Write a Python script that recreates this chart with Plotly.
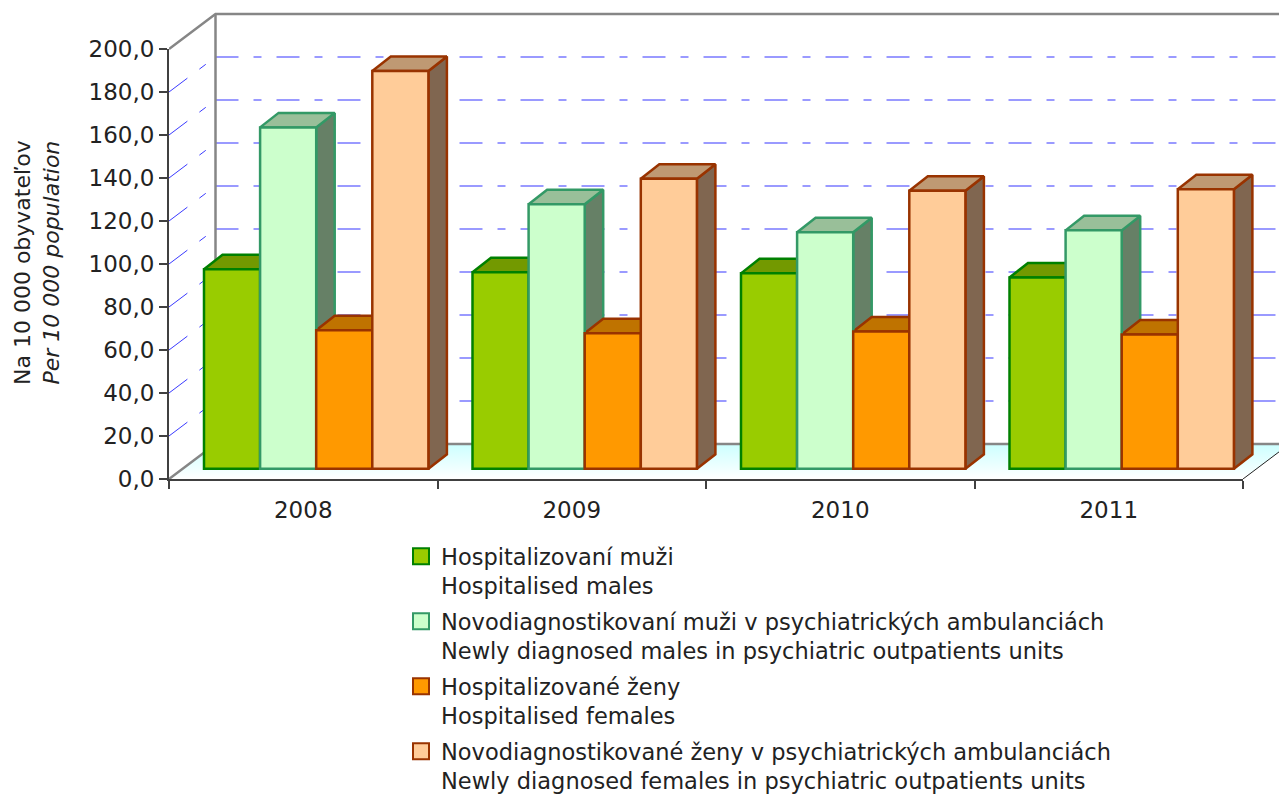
import plotly.graph_objects as go

years = ["2008", "2009", "2010", "2011"]
hosp_m = [92.8, 91.4, 90.9, 89.0]
diag_m = [158.8, 123.0, 110.0, 110.9]
hosp_f = [64.4, 63.0, 63.9, 62.5]
diag_f = [185.0, 134.9, 129.3, 130.0]
y_ticks = list(range(0, 201, 20))
y_labels = [f"{v},0" for v in y_ticks]
names = [
    "Hospitalizovaní muži<br>Hospitalised males",
    "Novodiagnostikovaní muži v psychiatrických ambulanciách<br>Newly diagnosed males in psychiatric outpatients units",
    "Hospitalizované ženy<br>Hospitalised females",
    "Novodiagnostikované ženy v psychiatrických ambulanciách<br>Newly diagnosed females in psychiatric outpatients units",
]
series = [hosp_m, diag_m, hosp_f, diag_f]
fills = ["#99CC00", "#CCFFCC", "#FF9900", "#FFCC99"]
tops = ["#739900", "#99BF99", "#BF7300", "#BF9973"]
sides = ["#4D6600", "#668066", "#804D00", "#806650"]
borders = ["#008000", "#339966", "#993300", "#993300"]

PX_X = 268.5
PX_Y = 2.15
W_FULL, H_FULL = 1110, 467               # whole drawing area in px
W_AX, H_AX = 1074, 430                   # area of the ticked front axes
WX, WY = 46.5 / PX_X, 35 / PX_Y          # wall depth
BX, BY = 18.5 / PX_X, 14.5 / PX_Y        # bar depth
BASE = 10.2 / PX_Y
BAR_W = 56.1 / PX_X
START = 35 / PX_X - 0.5
XR = -0.5 + W_FULL / PX_X
F = "DejaVu Sans"
GRID = "#7A7AFF"

fig = go.Figure()
nc = dict(hoverinfo="skip", showlegend=False)

# floor
fig.add_trace(go.Scatter(
    x=[-0.5, 3.5, XR, XR, -0.5 + WX, -0.5], y=[0, 0, 36 / 46.5 * WY, WY, WY, 0],
    mode="lines", line=dict(width=0), fill="toself",
    fillgradient=dict(type="vertical", colorscale=[[0, "#FFFFFF"], [1, "#CCFFFF"]]), **nc))

# back wall gridlines
bx, by = [], []
for v in y_ticks[1:-1]:
    bx += [-0.5 + WX, XR, None]
    by += [v + WY, v + WY, None]
fig.add_trace(go.Scatter(x=bx, y=by, mode="lines",
                         line=dict(color=GRID, width=1.5, dash="23px,15px,8px,15px"), **nc))
# side wall gridlines
sx, sy = [], []
for v in y_ticks[1:-1]:
    sx += [-0.5, -0.5 + WX, None]
    sy += [v, v + WY, None]
fig.add_trace(go.Scatter(x=sx, y=sy, mode="lines",
                         line=dict(color="#3A3AFF", width=1, dash="23px,15px,8px,15px"), **nc))
# walls
fig.add_trace(go.Scatter(
    x=[-0.5, -0.5 + WX, XR, None, -0.5 + WX, -0.5 + WX, None, -0.5, -0.5 + WX, XR],
    y=[200, 200 + WY, 200 + WY, None, 200 + WY, WY, None, 0, WY, WY],
    mode="lines", line=dict(color="#868686", width=2.5), **nc))
fig.add_trace(go.Scatter(x=[3.5, XR], y=[0, 36 / 46.5 * WY], mode="lines",
                         line=dict(color="#222222", width=1), **nc))

# 3D faces
for i, vals in enumerate(series):
    sx, sy, tx, ty = [], [], [], []
    for c, v in enumerate(vals):
        xl = c + START + i * BAR_W
        xr = xl + BAR_W
        yt = BASE + v
        sx += [xr, xr, xr + BX, xr + BX, xr, None]
        sy += [BASE, yt, yt + BY, BASE + BY, BASE, None]
        tx += [xl, xr, xr + BX, xl + BX, xl, None]
        ty += [yt, yt, yt + BY, yt + BY, yt, None]
    fig.add_trace(go.Scatter(x=sx, y=sy, mode="lines", fill="toself", fillcolor=sides[i],
                             line=dict(color=borders[i], width=2.5), **nc))
    fig.add_trace(go.Scatter(x=tx, y=ty, mode="lines", fill="toself", fillcolor=tops[i],
                             line=dict(color=borders[i], width=2.5), **nc))

# front faces on the ticked axes, drawn above the other faces
for i, vals in enumerate(series):
    fig.add_trace(go.Bar(
        x=list(range(len(years))), y=vals, base=BASE, width=BAR_W,
        offset=START + i * BAR_W, marker=dict(color=fills[i], line=dict(color=borders[i], width=2.5)),
        xaxis="x2", yaxis="y2", showlegend=False, name=names[i]))

# legend entries
for i, n in enumerate(names):
    fig.add_trace(go.Scatter(
        x=[None], y=[None], mode="markers", name=n, legendgroup=f"g{i}", xaxis="x2", yaxis="y2",
        marker=dict(symbol="square", size=16, color=fills[i], line=dict(color=borders[i], width=2))))

axis_font = dict(family=F, size=23, color="#222222")
fig.update_layout(
    width=1279, height=794, autosize=False, paper_bgcolor="white", plot_bgcolor="rgba(0,0,0,0)",
    margin=dict(l=169, r=0, t=12, b=315, autoexpand=False),
    xaxis=dict(domain=[0, 1], range=[-0.5, XR], visible=False, anchor="y"),
    yaxis=dict(domain=[0, 1], range=[0, H_FULL / PX_Y], visible=False, anchor="x"),
    xaxis2=dict(domain=[0, W_AX / W_FULL], anchor="y2", range=[-0.5, 3.5], tickmode="array",
                tickvals=list(range(len(years))), ticktext=years,
                ticks="", showgrid=False, zeroline=False, showline=True, linecolor="#404040", linewidth=2,
                tickfont=axis_font, ticklabelstandoff=9,
                minor=dict(tickmode="array", tickvals=[c - 0.5 for c in range(len(years) + 1)], ticks="outside",
                           ticklen=8, tickwidth=1.5, tickcolor="#404040", showgrid=False)),
    yaxis2=dict(domain=[0, H_AX / H_FULL], anchor="x2", range=[0, 200], tickmode="array", tickvals=y_ticks,
                ticktext=y_labels, ticks="outside",
                ticklen=8, tickwidth=1.5, tickcolor="#404040", showgrid=False, zeroline=False,
                showline=True, linecolor="#404040", linewidth=2, tickfont=axis_font),
    barmode="overlay",
    legend=dict(x=232 / W_FULL, y=-56 / H_FULL, xanchor="left", yanchor="top", bgcolor="rgba(0,0,0,0)",
                font=dict(family=F, size=22.5, color="#222222"), tracegroupgap=3.5, traceorder="grouped",
                valign="top", itemclick=False, itemdoubleclick=False),
    annotations=[dict(text="Na 10 000 obyvateľov<br><i>Per 10 000 population</i>", textangle=-90,
                      xref="paper", yref="paper", x=-132 / W_FULL, y=216 / H_FULL,
                      xanchor="center", yanchor="middle", showarrow=False, align="center",
                      font=dict(family=F, size=22, color="#222222"))],
)
fig.write_html("out.html", post_script="document.body.style.margin='0';",
               config={"displayModeBar": False})
